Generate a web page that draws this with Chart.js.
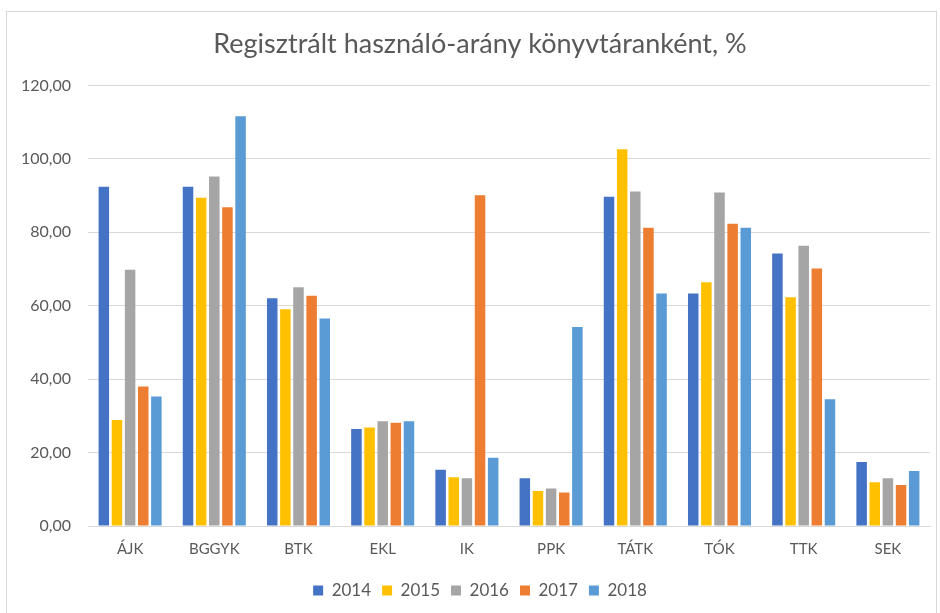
<!DOCTYPE html>
<html>
<head>
<meta charset="utf-8">
<script src="https://cdn.jsdelivr.net/npm/chart.js@4"></script>
<style>
  html, body { margin: 0; padding: 0; background: #ffffff; }
  #wrap { position: relative; width: 940px; height: 613px; }
  #frame { position: absolute; left: 6px; top: 11px; width: 931px; height: 610px; border: 1px solid #d9d9d9; box-sizing: border-box; pointer-events: none; }
</style>
</head>
<body>
<div id="wrap">
  <canvas id="c" width="940" height="613"></canvas>
  <div id="frame"></div>
</div>
<script>
const categories = ['ÁJK', 'BGGYK', 'BTK', 'EKL', 'IK', 'PPK', 'TÁTK', 'TÓK', 'TTK', 'SEK'];
const years = ['2014', '2015', '2016', '2017', '2018'];
const values2014 = [92.4, 92.4, 62.0, 26.4, 15.3, 13.0, 89.7, 63.3, 74.2, 17.4];
const values2015 = [28.9, 89.4, 59.0, 26.8, 13.3, 9.5, 102.6, 66.4, 62.3, 11.9];
const values2016 = [69.8, 95.2, 65.0, 28.5, 13.0, 10.2, 91.1, 90.8, 76.3, 13.0];
const values2017 = [38.0, 86.8, 62.7, 28.1, 90.1, 9.1, 81.2, 82.3, 70.1, 11.2];
const values2018 = [35.3, 111.6, 56.5, 28.5, 18.6, 54.2, 63.3, 81.2, 34.5, 15.0];
const yTicks = [0, 20, 40, 60, 80, 100, 120];
const titleText = 'Regisztrált használó-arány könyvtáranként, %';

const colors = ['#4472C4', '#FFC000', '#A5A5A5', '#ED7D31', '#5B9BD5'];
const seriesValues = [values2014, values2015, values2016, values2017, values2018];
const FONT = 'Lato, "Open Sans", "Liberation Sans", sans-serif';

const shiftBoxes = {
  id: 'shiftBoxes',
  afterLayout(chart) {
    if (chart.titleBlock) { chart.titleBlock.left += 30; }
    if (chart.legend) { chart.legend.left += 30; }
  }
};

new Chart(document.getElementById('c'), {
  type: 'bar',
  data: {
    labels: categories,
    datasets: years.map((y, i) => ({
      label: y,
      data: seriesValues[i],
      backgroundColor: colors[i],
      borderWidth: 0,
      categoryPercentage: 0.78,
      barPercentage: 0.8
    }))
  },
  plugins: [shiftBoxes],
  options: {
    responsive: false,
    animation: false,
    layout: { padding: { left: 0, right: 10, top: 0, bottom: 4 } },
    plugins: {
      title: {
        display: true,
        text: titleText,
        color: '#595959',
        font: { family: FONT, size: 27, weight: 'normal' },
        padding: { top: 28, bottom: 25 }
      },
      legend: {
        position: 'bottom',
        labels: {
          color: '#595959',
          font: { family: FONT, size: 17 },
          boxWidth: 10,
          boxHeight: 10,
          padding: 11
        }
      },
      tooltip: { enabled: false }
    },
    scales: {
      x: {
        afterFit: (s) => { s.height = 45; },
        grid: { display: false, drawTicks: false },
        border: { display: true, color: '#d9d9d9', width: 1 },
        ticks: { color: '#595959', font: { family: FONT, size: 15 }, padding: 14 }
      },
      y: {
        min: 0,
        max: 120,
        afterFit: (s) => { s.width = 88; },
        afterBuildTicks: (s) => { s.ticks = yTicks.map(v => ({ value: v })); },
        grid: { color: '#d9d9d9', lineWidth: 1, drawTicks: false },
        border: { display: false },
        ticks: {
          color: '#595959',
          font: { family: FONT, size: 16 },
          padding: 17,
          callback: (v) => Number(v).toFixed(2).replace('.', ',')
        }
      }
    }
  }
});
</script>
</body>
</html>
